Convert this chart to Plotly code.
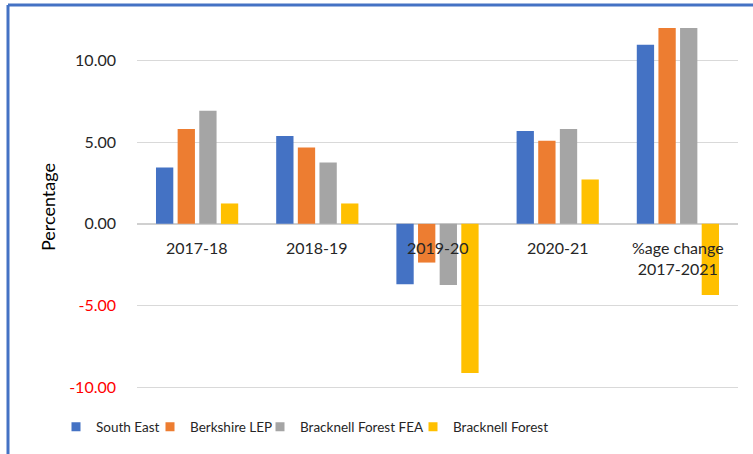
import plotly.graph_objects as go

categories = ["2017-18", "2018-19", "2019-20", "2020-21", "%age change 2017-2021"]
category_labels = ["2017-18", "2018-19", "2019-20", "2020-21", "%age change<br>2017-2021"]
south_east = [3.45, 5.38, -3.70, 5.69, 10.98]
berkshire_lep = [5.81, 4.68, -2.37, 5.09, 13.6]
bracknell_fea = [6.93, 3.76, -3.74, 5.81, 13.0]
bracknell_forest = [1.25, 1.25, -9.14, 2.72, -4.36]

series_names = ["South East", "Berkshire LEP", "Bracknell Forest FEA", "Bracknell Forest"]
series_values = [south_east, berkshire_lep, bracknell_fea, bracknell_forest]
series_colors = ["#4472C4", "#ED7D31", "#A5A5A5", "#FFC000"]

tick_vals = [-10, -5, 0, 5, 10]
tick_text = [
    '<span style="color:#FF0000">-10.00</span>',
    '<span style="color:#FF0000">-5.00</span>',
    "0.00", "5.00", "10.00",
]

FONT = "Lato"
TEXT = "#262626"

W, H = 753, 454
ml, mr, mt, mb = 137, 15, 28, 62
pw = W - ml - mr
ph = H - mt - mb

def px_to_paper_x(px):
    return (px - ml) / pw

def px_to_paper_y(py):
    return (H - mb - py) / ph

# legend square centres (px) in the reference
legend_px = [82, 176, 286, 439]
legend_ids = ["legend", "legend2", "legend3", "legend4"]

fig = go.Figure()
for name, vals, color, lid in zip(series_names, series_values, series_colors, legend_ids):
    fig.add_trace(go.Bar(x=categories, y=vals, name=name, marker_color=color,
                         marker_line_width=0, showlegend=False))
    fig.add_trace(go.Scatter(x=[None], y=[None], mode="markers", name=name, legend=lid,
                             marker=dict(symbol="square", size=9, color=color), showlegend=True))

annotations = []
for cat, lab in zip(categories, category_labels):
    annotations.append(dict(x=cat, y=0, xref="x", yref="y", text=lab, showarrow=False,
                            yanchor="top", yshift=-12, font=dict(family=FONT, size=16, color=TEXT)))
annotations.append(dict(x=px_to_paper_x(48), y=px_to_paper_y(207), xref="paper", yref="paper",
                        xanchor="center", yanchor="middle",
                        text="Percentage", textangle=-90, showarrow=False,
                        font=dict(family=FONT, size=18, color="#000000")))

shapes = [
    dict(type="line", xref="paper", yref="paper",
         x0=px_to_paper_x(8), x1=px_to_paper_x(8), y0=px_to_paper_y(470), y1=px_to_paper_y(5),
         line=dict(color="#4472C4", width=3)),
    dict(type="line", xref="paper", yref="paper",
         x0=px_to_paper_x(8), x1=px_to_paper_x(770), y0=px_to_paper_y(5), y1=px_to_paper_y(5),
         line=dict(color="#4472C4", width=3)),
]

legends = {}
for lid, cx in zip(legend_ids, legend_px):
    legends[lid] = dict(orientation="h", x=px_to_paper_x(cx - 26), y=px_to_paper_y(427),
                        xanchor="left", yanchor="middle", bgcolor="rgba(0,0,0,0)",
                        font=dict(family=FONT, size=13.5, color=TEXT))

fig.update_layout(
    width=W, height=H,
    margin=dict(l=ml, r=mr, t=mt, b=mb, autoexpand=False),
    paper_bgcolor="white", plot_bgcolor="white",
    barmode="group", bargap=0.28, bargroupgap=0.2,
    font=dict(family=FONT, size=16, color=TEXT),
    showlegend=True,
    annotations=annotations,
    shapes=shapes,
    xaxis=dict(showticklabels=False, showgrid=False, showline=False, zeroline=False),
    yaxis=dict(range=[-10.3, 12], tickvals=tick_vals, ticktext=tick_text,
               showgrid=True, gridcolor="#D9D9D9", gridwidth=1,
               zeroline=True, zerolinecolor="#D0D0D0", zerolinewidth=1.5,
               showline=False, ticks="", ticklabelstandoff=20,
               tickfont=dict(family=FONT, size=16, color=TEXT)),
    **legends,
)

fig.write_html("out.html", config={"displayModeBar": False},
               post_script="document.body.style.margin='0';")
